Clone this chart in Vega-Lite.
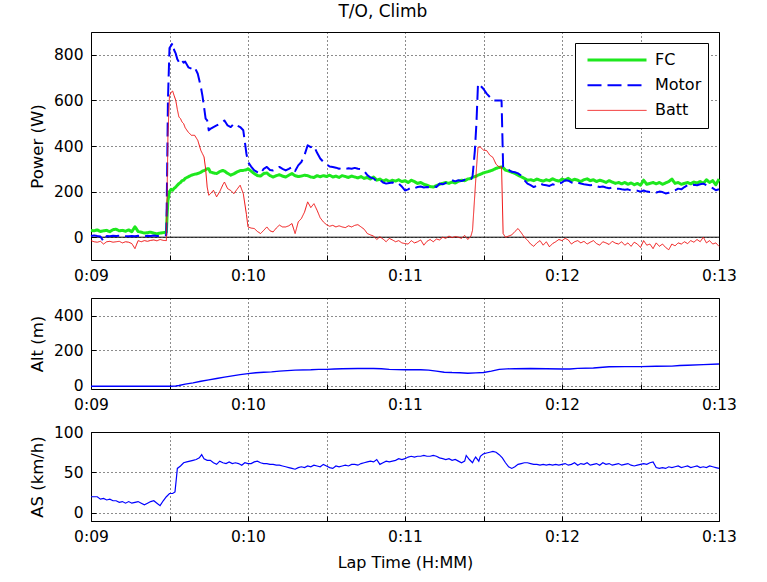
{
  "$schema": "https://vega.github.io/schema/vega-lite/v6.json",
  "background": "white",
  "padding": {"left": 28, "top": 2, "right": 30, "bottom": 14},
  "title": {"text": "T/O, Climb", "anchor": "middle"},
  "datasets": {
    "power": [
      {"t": 9.00, "FC": 30, "Motor": 5, "Batt": -15},
      {"t": 9.02, "FC": 28, "Motor": 8, "Batt": -20},
      {"t": 9.04, "FC": 32, "Motor": 5, "Batt": -22},
      {"t": 9.06, "FC": 25, "Motor": 3, "Batt": -18},
      {"t": 9.08, "FC": 28, "Motor": -18, "Batt": -30},
      {"t": 9.10, "FC": 30, "Motor": 5, "Batt": -20},
      {"t": 9.12, "FC": 24, "Motor": 4, "Batt": -18},
      {"t": 9.14, "FC": 33, "Motor": 6, "Batt": -22},
      {"t": 9.16, "FC": 35, "Motor": 5, "Batt": -20},
      {"t": 9.18, "FC": 28, "Motor": 6, "Batt": -18},
      {"t": 9.20, "FC": 30, "Motor": 8, "Batt": -25},
      {"t": 9.22, "FC": 26, "Motor": 5, "Batt": -20},
      {"t": 9.24, "FC": 32, "Motor": 4, "Batt": -22},
      {"t": 9.26, "FC": 24, "Motor": 5, "Batt": -28},
      {"t": 9.28, "FC": 46, "Motor": 4, "Batt": -50},
      {"t": 9.30, "FC": 25, "Motor": 6, "Batt": -15},
      {"t": 9.32, "FC": 22, "Motor": 5, "Batt": -20},
      {"t": 9.34, "FC": 18, "Motor": 4, "Batt": -15},
      {"t": 9.36, "FC": 20, "Motor": 6, "Batt": -18},
      {"t": 9.38, "FC": 22, "Motor": 5, "Batt": -14},
      {"t": 9.40, "FC": 18, "Motor": 7, "Batt": -12},
      {"t": 9.42, "FC": 15, "Motor": 5, "Batt": -16},
      {"t": 9.44, "FC": 18, "Motor": 6, "Batt": -10},
      {"t": 9.46, "FC": 20, "Motor": 8, "Batt": -14},
      {"t": 9.48, "FC": 22, "Motor": 10, "Batt": -15},
      {"t": 9.485, "FC": 100, "Motor": 290, "Batt": 200},
      {"t": 9.49, "FC": 160, "Motor": 600, "Batt": 450},
      {"t": 9.50, "FC": 200, "Motor": 830, "Batt": 620},
      {"t": 9.51, "FC": 210, "Motor": 840, "Batt": 635},
      {"t": 9.52, "FC": 206, "Motor": 851, "Batt": 641},
      {"t": 9.53, "FC": 215, "Motor": 820, "Batt": 620},
      {"t": 9.54, "FC": 220, "Motor": 805, "Batt": 600},
      {"t": 9.55, "FC": 228, "Motor": 780, "Batt": 560},
      {"t": 9.56, "FC": 235, "Motor": 768, "Batt": 527},
      {"t": 9.57, "FC": 240, "Motor": 780, "Batt": 520},
      {"t": 9.58, "FC": 248, "Motor": 775, "Batt": 505},
      {"t": 9.59, "FC": 250, "Motor": 765, "Batt": 498},
      {"t": 9.60, "FC": 258, "Motor": 770, "Batt": 480},
      {"t": 9.62, "FC": 265, "Motor": 745, "Batt": 460},
      {"t": 9.64, "FC": 272, "Motor": 739, "Batt": 447},
      {"t": 9.66, "FC": 276, "Motor": 746, "Batt": 447},
      {"t": 9.68, "FC": 279, "Motor": 717, "Batt": 425},
      {"t": 9.70, "FC": 285, "Motor": 658, "Batt": 380},
      {"t": 9.71, "FC": 290, "Motor": 620, "Batt": 366},
      {"t": 9.72, "FC": 292, "Motor": 571, "Batt": 352},
      {"t": 9.73, "FC": 296, "Motor": 520, "Batt": 300},
      {"t": 9.74, "FC": 300, "Motor": 512, "Batt": 220},
      {"t": 9.75, "FC": 300, "Motor": 469, "Batt": 184},
      {"t": 9.76, "FC": 286, "Motor": 475, "Batt": 190},
      {"t": 9.78, "FC": 282, "Motor": 483, "Batt": 206},
      {"t": 9.80, "FC": 279, "Motor": 490, "Batt": 177},
      {"t": 9.82, "FC": 288, "Motor": 498, "Batt": 200},
      {"t": 9.84, "FC": 293, "Motor": 505, "Batt": 230},
      {"t": 9.85, "FC": 290, "Motor": 512, "Batt": 242},
      {"t": 9.87, "FC": 280, "Motor": 490, "Batt": 213},
      {"t": 9.89, "FC": 272, "Motor": 483, "Batt": 205},
      {"t": 9.91, "FC": 278, "Motor": 498, "Batt": 191},
      {"t": 9.93, "FC": 286, "Motor": 490, "Batt": 210},
      {"t": 9.95, "FC": 292, "Motor": 483, "Batt": 228},
      {"t": 9.97, "FC": 293, "Motor": 469, "Batt": 191},
      {"t": 9.99, "FC": 296, "Motor": 366, "Batt": 100},
      {"t": 10.00, "FC": 300, "Motor": 330, "Batt": 45},
      {"t": 10.02, "FC": 290, "Motor": 310, "Batt": 40},
      {"t": 10.04, "FC": 279, "Motor": 293, "Batt": 38},
      {"t": 10.06, "FC": 270, "Motor": 285, "Batt": 25},
      {"t": 10.08, "FC": 268, "Motor": 279, "Batt": 16},
      {"t": 10.10, "FC": 279, "Motor": 300, "Batt": 30},
      {"t": 10.12, "FC": 282, "Motor": 308, "Batt": 45},
      {"t": 10.14, "FC": 270, "Motor": 295, "Batt": 28},
      {"t": 10.16, "FC": 264, "Motor": 293, "Batt": 23},
      {"t": 10.18, "FC": 270, "Motor": 300, "Batt": 40},
      {"t": 10.20, "FC": 274, "Motor": 308, "Batt": 53},
      {"t": 10.22, "FC": 268, "Motor": 300, "Batt": 45},
      {"t": 10.24, "FC": 264, "Motor": 293, "Batt": 45},
      {"t": 10.26, "FC": 272, "Motor": 300, "Batt": 50},
      {"t": 10.28, "FC": 279, "Motor": 308, "Batt": 60},
      {"t": 10.30, "FC": 270, "Motor": 290, "Batt": 16},
      {"t": 10.32, "FC": 266, "Motor": 315, "Batt": 67},
      {"t": 10.34, "FC": 268, "Motor": 330, "Batt": 82},
      {"t": 10.36, "FC": 272, "Motor": 360, "Batt": 110},
      {"t": 10.38, "FC": 270, "Motor": 403, "Batt": 155},
      {"t": 10.40, "FC": 264, "Motor": 395, "Batt": 130},
      {"t": 10.42, "FC": 262, "Motor": 400, "Batt": 147},
      {"t": 10.44, "FC": 270, "Motor": 370, "Batt": 118},
      {"t": 10.46, "FC": 265, "Motor": 345, "Batt": 85},
      {"t": 10.48, "FC": 270, "Motor": 330, "Batt": 67},
      {"t": 10.50, "FC": 266, "Motor": 320, "Batt": 55},
      {"t": 10.52, "FC": 272, "Motor": 310, "Batt": 48},
      {"t": 10.54, "FC": 264, "Motor": 308, "Batt": 52},
      {"t": 10.56, "FC": 268, "Motor": 305, "Batt": 45},
      {"t": 10.58, "FC": 262, "Motor": 300, "Batt": 50},
      {"t": 10.60, "FC": 270, "Motor": 304, "Batt": 45},
      {"t": 10.62, "FC": 266, "Motor": 300, "Batt": 42},
      {"t": 10.64, "FC": 262, "Motor": 302, "Batt": 50},
      {"t": 10.66, "FC": 268, "Motor": 300, "Batt": 45},
      {"t": 10.68, "FC": 264, "Motor": 304, "Batt": 52},
      {"t": 10.70, "FC": 260, "Motor": 300, "Batt": 55},
      {"t": 10.72, "FC": 266, "Motor": 298, "Batt": 45},
      {"t": 10.74, "FC": 258, "Motor": 290, "Batt": 35},
      {"t": 10.76, "FC": 262, "Motor": 272, "Batt": 16},
      {"t": 10.78, "FC": 255, "Motor": 262, "Batt": 10},
      {"t": 10.80, "FC": 264, "Motor": 258, "Batt": 5},
      {"t": 10.82, "FC": 250, "Motor": 245, "Batt": -10},
      {"t": 10.84, "FC": 255, "Motor": 252, "Batt": 2},
      {"t": 10.86, "FC": 246, "Motor": 240, "Batt": -8},
      {"t": 10.88, "FC": 252, "Motor": 235, "Batt": -20},
      {"t": 10.90, "FC": 244, "Motor": 238, "Batt": -5},
      {"t": 10.92, "FC": 250, "Motor": 240, "Batt": -12},
      {"t": 10.94, "FC": 246, "Motor": 232, "Batt": -20},
      {"t": 10.96, "FC": 252, "Motor": 235, "Batt": -15},
      {"t": 10.98, "FC": 244, "Motor": 222, "Batt": -25},
      {"t": 11.00, "FC": 248, "Motor": 205, "Batt": -28},
      {"t": 11.02, "FC": 240, "Motor": 210, "Batt": -30},
      {"t": 11.04, "FC": 250, "Motor": 218, "Batt": -15},
      {"t": 11.06, "FC": 244, "Motor": 215, "Batt": -25},
      {"t": 11.08, "FC": 236, "Motor": 220, "Batt": -20},
      {"t": 11.10, "FC": 240, "Motor": 222, "Batt": -12},
      {"t": 11.12, "FC": 232, "Motor": 218, "Batt": -35},
      {"t": 11.14, "FC": 228, "Motor": 220, "Batt": -18},
      {"t": 11.16, "FC": 222, "Motor": 218, "Batt": -10},
      {"t": 11.18, "FC": 220, "Motor": 224, "Batt": -20},
      {"t": 11.20, "FC": 226, "Motor": 220, "Batt": -8},
      {"t": 11.22, "FC": 232, "Motor": 235, "Batt": -12},
      {"t": 11.24, "FC": 236, "Motor": 232, "Batt": 0},
      {"t": 11.26, "FC": 240, "Motor": 238, "Batt": -5},
      {"t": 11.28, "FC": 236, "Motor": 244, "Batt": 5},
      {"t": 11.30, "FC": 242, "Motor": 250, "Batt": -2},
      {"t": 11.32, "FC": 238, "Motor": 245, "Batt": 3},
      {"t": 11.34, "FC": 245, "Motor": 250, "Batt": 0},
      {"t": 11.36, "FC": 250, "Motor": 246, "Batt": -5},
      {"t": 11.38, "FC": 248, "Motor": 252, "Batt": 8},
      {"t": 11.40, "FC": 255, "Motor": 248, "Batt": -10},
      {"t": 11.42, "FC": 258, "Motor": 255, "Batt": 5},
      {"t": 11.43, "FC": 262, "Motor": 265, "Batt": 30},
      {"t": 11.445, "FC": 266, "Motor": 380, "Batt": 190},
      {"t": 11.455, "FC": 268, "Motor": 500, "Batt": 300},
      {"t": 11.465, "FC": 272, "Motor": 673, "Batt": 395},
      {"t": 11.48, "FC": 276, "Motor": 665, "Batt": 395},
      {"t": 11.50, "FC": 282, "Motor": 650, "Batt": 382},
      {"t": 11.52, "FC": 286, "Motor": 630, "Batt": 380},
      {"t": 11.54, "FC": 290, "Motor": 615, "Batt": 360},
      {"t": 11.56, "FC": 295, "Motor": 600, "Batt": 350},
      {"t": 11.58, "FC": 302, "Motor": 600, "Batt": 320},
      {"t": 11.60, "FC": 306, "Motor": 600, "Batt": 308},
      {"t": 11.615, "FC": 308, "Motor": 600, "Batt": 308},
      {"t": 11.625, "FC": 305, "Motor": 308, "Batt": 16},
      {"t": 11.64, "FC": 294, "Motor": 300, "Batt": 0},
      {"t": 11.66, "FC": 290, "Motor": 295, "Batt": 5},
      {"t": 11.68, "FC": 285, "Motor": 287, "Batt": 10},
      {"t": 11.70, "FC": 280, "Motor": 285, "Batt": 25},
      {"t": 11.72, "FC": 272, "Motor": 280, "Batt": 38},
      {"t": 11.74, "FC": 265, "Motor": 270, "Batt": 20},
      {"t": 11.76, "FC": 258, "Motor": 250, "Batt": 0},
      {"t": 11.78, "FC": 250, "Motor": 235, "Batt": -13},
      {"t": 11.80, "FC": 252, "Motor": 228, "Batt": -30},
      {"t": 11.82, "FC": 248, "Motor": 220, "Batt": -40},
      {"t": 11.84, "FC": 255, "Motor": 225, "Batt": -25},
      {"t": 11.86, "FC": 250, "Motor": 235, "Batt": -15},
      {"t": 11.88, "FC": 246, "Motor": 230, "Batt": -35},
      {"t": 11.90, "FC": 252, "Motor": 228, "Batt": -20},
      {"t": 11.92, "FC": 248, "Motor": 225, "Batt": -42},
      {"t": 11.94, "FC": 256, "Motor": 232, "Batt": -28},
      {"t": 11.96, "FC": 250, "Motor": 228, "Batt": -20},
      {"t": 11.98, "FC": 246, "Motor": 235, "Batt": -10},
      {"t": 12.00, "FC": 255, "Motor": 240, "Batt": -15},
      {"t": 12.02, "FC": 250, "Motor": 250, "Batt": -5},
      {"t": 12.04, "FC": 258, "Motor": 248, "Batt": -12},
      {"t": 12.06, "FC": 248, "Motor": 240, "Batt": -30},
      {"t": 12.08, "FC": 254, "Motor": 236, "Batt": -20},
      {"t": 12.10, "FC": 250, "Motor": 240, "Batt": -15},
      {"t": 12.12, "FC": 244, "Motor": 235, "Batt": -25},
      {"t": 12.14, "FC": 252, "Motor": 232, "Batt": -18},
      {"t": 12.16, "FC": 256, "Motor": 230, "Batt": -30},
      {"t": 12.18, "FC": 248, "Motor": 228, "Batt": -22},
      {"t": 12.20, "FC": 252, "Motor": 230, "Batt": -15},
      {"t": 12.22, "FC": 244, "Motor": 224, "Batt": -28},
      {"t": 12.24, "FC": 250, "Motor": 220, "Batt": -35},
      {"t": 12.26, "FC": 246, "Motor": 222, "Batt": -20},
      {"t": 12.28, "FC": 240, "Motor": 218, "Batt": -25},
      {"t": 12.30, "FC": 248, "Motor": 215, "Batt": -32},
      {"t": 12.32, "FC": 242, "Motor": 218, "Batt": -18},
      {"t": 12.34, "FC": 236, "Motor": 212, "Batt": -26},
      {"t": 12.36, "FC": 240, "Motor": 213, "Batt": -30},
      {"t": 12.38, "FC": 234, "Motor": 210, "Batt": -20},
      {"t": 12.40, "FC": 240, "Motor": 208, "Batt": -35},
      {"t": 12.42, "FC": 232, "Motor": 210, "Batt": -25},
      {"t": 12.44, "FC": 238, "Motor": 205, "Batt": -40},
      {"t": 12.46, "FC": 230, "Motor": 206, "Batt": -22},
      {"t": 12.48, "FC": 236, "Motor": 204, "Batt": -30},
      {"t": 12.50, "FC": 228, "Motor": 200, "Batt": -45},
      {"t": 12.52, "FC": 250, "Motor": 205, "Batt": -15},
      {"t": 12.54, "FC": 232, "Motor": 200, "Batt": -35},
      {"t": 12.56, "FC": 236, "Motor": 198, "Batt": -30},
      {"t": 12.58, "FC": 240, "Motor": 200, "Batt": -50},
      {"t": 12.60, "FC": 234, "Motor": 196, "Batt": -25},
      {"t": 12.62, "FC": 240, "Motor": 200, "Batt": -40},
      {"t": 12.64, "FC": 232, "Motor": 198, "Batt": -30},
      {"t": 12.66, "FC": 238, "Motor": 192, "Batt": -45},
      {"t": 12.68, "FC": 244, "Motor": 195, "Batt": -55},
      {"t": 12.70, "FC": 255, "Motor": 200, "Batt": -30},
      {"t": 12.72, "FC": 236, "Motor": 205, "Batt": -38},
      {"t": 12.74, "FC": 240, "Motor": 213, "Batt": -25},
      {"t": 12.76, "FC": 232, "Motor": 210, "Batt": -30},
      {"t": 12.78, "FC": 236, "Motor": 220, "Batt": -20},
      {"t": 12.80, "FC": 240, "Motor": 228, "Batt": -28},
      {"t": 12.82, "FC": 234, "Motor": 225, "Batt": -15},
      {"t": 12.84, "FC": 242, "Motor": 230, "Batt": -22},
      {"t": 12.86, "FC": 238, "Motor": 228, "Batt": -10},
      {"t": 12.88, "FC": 244, "Motor": 232, "Batt": -20},
      {"t": 12.90, "FC": 236, "Motor": 235, "Batt": 0},
      {"t": 12.92, "FC": 252, "Motor": 228, "Batt": -25},
      {"t": 12.94, "FC": 240, "Motor": 222, "Batt": -15},
      {"t": 12.96, "FC": 248, "Motor": 215, "Batt": -30},
      {"t": 12.98, "FC": 230, "Motor": 206, "Batt": -25},
      {"t": 13.00, "FC": 255, "Motor": 210, "Batt": -40}
    ],
    "alt": [
      {"t": 9.00, "alt": -4}, {"t": 9.50, "alt": -4}, {"t": 9.54, "alt": -3}, {"t": 9.56, "alt": 0},
      {"t": 9.60, "alt": 8}, {"t": 9.65, "alt": 15}, {"t": 9.70, "alt": 24}, {"t": 9.75, "alt": 32},
      {"t": 9.80, "alt": 40}, {"t": 9.85, "alt": 48}, {"t": 9.90, "alt": 55}, {"t": 9.95, "alt": 62},
      {"t": 10.00, "alt": 68}, {"t": 10.05, "alt": 73}, {"t": 10.10, "alt": 76}, {"t": 10.15, "alt": 78},
      {"t": 10.20, "alt": 82}, {"t": 10.25, "alt": 85}, {"t": 10.30, "alt": 88}, {"t": 10.40, "alt": 90},
      {"t": 10.45, "alt": 92}, {"t": 10.50, "alt": 92}, {"t": 10.55, "alt": 94}, {"t": 10.60, "alt": 96},
      {"t": 10.70, "alt": 97}, {"t": 10.80, "alt": 97}, {"t": 10.85, "alt": 96}, {"t": 10.90, "alt": 92},
      {"t": 11.00, "alt": 90}, {"t": 11.10, "alt": 90}, {"t": 11.15, "alt": 88}, {"t": 11.20, "alt": 82},
      {"t": 11.25, "alt": 76}, {"t": 11.30, "alt": 74}, {"t": 11.35, "alt": 73}, {"t": 11.40, "alt": 70},
      {"t": 11.45, "alt": 72}, {"t": 11.50, "alt": 74}, {"t": 11.55, "alt": 82}, {"t": 11.60, "alt": 92},
      {"t": 11.65, "alt": 95}, {"t": 11.70, "alt": 96}, {"t": 11.80, "alt": 97}, {"t": 11.90, "alt": 96},
      {"t": 12.00, "alt": 94}, {"t": 12.05, "alt": 94}, {"t": 12.10, "alt": 98}, {"t": 12.20, "alt": 100},
      {"t": 12.30, "alt": 107}, {"t": 12.40, "alt": 108}, {"t": 12.50, "alt": 108}, {"t": 12.60, "alt": 110},
      {"t": 12.70, "alt": 111}, {"t": 12.75, "alt": 114}, {"t": 12.80, "alt": 116}, {"t": 12.90, "alt": 119},
      {"t": 13.00, "alt": 123}
    ],
    "as": [
      {"t": 9.00, "as": 20}, {"t": 9.02, "as": 20}, {"t": 9.04, "as": 20}, {"t": 9.06, "as": 17},
      {"t": 9.08, "as": 18}, {"t": 9.10, "as": 16}, {"t": 9.12, "as": 17}, {"t": 9.14, "as": 15},
      {"t": 9.16, "as": 15}, {"t": 9.18, "as": 13}, {"t": 9.20, "as": 14}, {"t": 9.22, "as": 12},
      {"t": 9.24, "as": 14}, {"t": 9.26, "as": 12}, {"t": 9.28, "as": 13}, {"t": 9.30, "as": 14},
      {"t": 9.32, "as": 12}, {"t": 9.34, "as": 10}, {"t": 9.36, "as": 12}, {"t": 9.38, "as": 14},
      {"t": 9.40, "as": 15}, {"t": 9.42, "as": 12}, {"t": 9.44, "as": 9}, {"t": 9.46, "as": 15},
      {"t": 9.48, "as": 20}, {"t": 9.50, "as": 24}, {"t": 9.52, "as": 24}, {"t": 9.535, "as": 26},
      {"t": 9.545, "as": 45}, {"t": 9.55, "as": 55}, {"t": 9.57, "as": 58}, {"t": 9.59, "as": 62},
      {"t": 9.61, "as": 63}, {"t": 9.63, "as": 64}, {"t": 9.65, "as": 65}, {"t": 9.67, "as": 66},
      {"t": 9.69, "as": 68}, {"t": 9.705, "as": 72}, {"t": 9.72, "as": 67}, {"t": 9.74, "as": 65},
      {"t": 9.76, "as": 65}, {"t": 9.78, "as": 62}, {"t": 9.80, "as": 60}, {"t": 9.82, "as": 64},
      {"t": 9.84, "as": 62}, {"t": 9.86, "as": 61}, {"t": 9.88, "as": 63}, {"t": 9.90, "as": 61},
      {"t": 9.92, "as": 62}, {"t": 9.94, "as": 61}, {"t": 9.96, "as": 59}, {"t": 9.98, "as": 62},
      {"t": 10.00, "as": 61}, {"t": 10.02, "as": 61}, {"t": 10.04, "as": 63}, {"t": 10.06, "as": 64},
      {"t": 10.08, "as": 62}, {"t": 10.10, "as": 61}, {"t": 10.12, "as": 61}, {"t": 10.14, "as": 60},
      {"t": 10.16, "as": 60}, {"t": 10.18, "as": 59}, {"t": 10.20, "as": 59}, {"t": 10.22, "as": 58},
      {"t": 10.24, "as": 57}, {"t": 10.26, "as": 56}, {"t": 10.28, "as": 55}, {"t": 10.30, "as": 54},
      {"t": 10.32, "as": 56}, {"t": 10.34, "as": 57}, {"t": 10.36, "as": 56}, {"t": 10.38, "as": 58},
      {"t": 10.40, "as": 57}, {"t": 10.42, "as": 59}, {"t": 10.44, "as": 58}, {"t": 10.46, "as": 57},
      {"t": 10.48, "as": 60}, {"t": 10.50, "as": 58}, {"t": 10.52, "as": 56}, {"t": 10.54, "as": 55},
      {"t": 10.56, "as": 58}, {"t": 10.58, "as": 57}, {"t": 10.60, "as": 58}, {"t": 10.62, "as": 59},
      {"t": 10.64, "as": 58}, {"t": 10.66, "as": 60}, {"t": 10.68, "as": 60}, {"t": 10.70, "as": 59},
      {"t": 10.72, "as": 61}, {"t": 10.74, "as": 62}, {"t": 10.76, "as": 63}, {"t": 10.78, "as": 64},
      {"t": 10.80, "as": 63}, {"t": 10.82, "as": 66}, {"t": 10.84, "as": 60}, {"t": 10.86, "as": 62},
      {"t": 10.88, "as": 64}, {"t": 10.90, "as": 63}, {"t": 10.92, "as": 64}, {"t": 10.94, "as": 65},
      {"t": 10.96, "as": 67}, {"t": 10.98, "as": 66}, {"t": 11.00, "as": 67}, {"t": 11.02, "as": 69},
      {"t": 11.04, "as": 70}, {"t": 11.06, "as": 69}, {"t": 11.08, "as": 70}, {"t": 11.10, "as": 70},
      {"t": 11.12, "as": 71}, {"t": 11.14, "as": 70}, {"t": 11.16, "as": 70}, {"t": 11.18, "as": 71},
      {"t": 11.20, "as": 70}, {"t": 11.22, "as": 68}, {"t": 11.24, "as": 67}, {"t": 11.26, "as": 66},
      {"t": 11.28, "as": 67}, {"t": 11.30, "as": 65}, {"t": 11.32, "as": 66}, {"t": 11.34, "as": 64},
      {"t": 11.36, "as": 62}, {"t": 11.38, "as": 64}, {"t": 11.39, "as": 71}, {"t": 11.41, "as": 66},
      {"t": 11.43, "as": 62}, {"t": 11.44, "as": 66}, {"t": 11.45, "as": 69}, {"t": 11.47, "as": 64},
      {"t": 11.48, "as": 70}, {"t": 11.50, "as": 73}, {"t": 11.52, "as": 74}, {"t": 11.54, "as": 75},
      {"t": 11.56, "as": 76}, {"t": 11.58, "as": 75}, {"t": 11.60, "as": 72}, {"t": 11.62, "as": 68},
      {"t": 11.64, "as": 62}, {"t": 11.66, "as": 57}, {"t": 11.68, "as": 55}, {"t": 11.70, "as": 57},
      {"t": 11.72, "as": 60}, {"t": 11.74, "as": 61}, {"t": 11.76, "as": 62}, {"t": 11.78, "as": 62},
      {"t": 11.80, "as": 61}, {"t": 11.82, "as": 60}, {"t": 11.84, "as": 60}, {"t": 11.86, "as": 59},
      {"t": 11.88, "as": 60}, {"t": 11.90, "as": 59}, {"t": 11.92, "as": 60}, {"t": 11.94, "as": 59},
      {"t": 11.96, "as": 60}, {"t": 11.98, "as": 59}, {"t": 12.00, "as": 60}, {"t": 12.02, "as": 61},
      {"t": 12.04, "as": 59}, {"t": 12.06, "as": 60}, {"t": 12.08, "as": 62}, {"t": 12.10, "as": 59},
      {"t": 12.12, "as": 61}, {"t": 12.14, "as": 60}, {"t": 12.16, "as": 62}, {"t": 12.18, "as": 59},
      {"t": 12.20, "as": 60}, {"t": 12.22, "as": 61}, {"t": 12.24, "as": 59}, {"t": 12.26, "as": 62},
      {"t": 12.28, "as": 60}, {"t": 12.30, "as": 61}, {"t": 12.32, "as": 59}, {"t": 12.34, "as": 60},
      {"t": 12.36, "as": 61}, {"t": 12.38, "as": 59}, {"t": 12.40, "as": 60}, {"t": 12.42, "as": 61},
      {"t": 12.44, "as": 59}, {"t": 12.46, "as": 58}, {"t": 12.48, "as": 59}, {"t": 12.50, "as": 60},
      {"t": 12.52, "as": 61}, {"t": 12.54, "as": 60}, {"t": 12.56, "as": 62}, {"t": 12.58, "as": 63},
      {"t": 12.60, "as": 56}, {"t": 12.62, "as": 55}, {"t": 12.64, "as": 56}, {"t": 12.66, "as": 55},
      {"t": 12.68, "as": 57}, {"t": 12.70, "as": 56}, {"t": 12.72, "as": 57}, {"t": 12.74, "as": 58},
      {"t": 12.76, "as": 56}, {"t": 12.78, "as": 57}, {"t": 12.80, "as": 58}, {"t": 12.82, "as": 56},
      {"t": 12.84, "as": 57}, {"t": 12.86, "as": 58}, {"t": 12.88, "as": 56}, {"t": 12.90, "as": 57},
      {"t": 12.92, "as": 56}, {"t": 12.94, "as": 58}, {"t": 12.96, "as": 57}, {"t": 12.98, "as": 56},
      {"t": 13.00, "as": 55}
    ],
    "zero": [{"z": 0}]
  },
  "bounds": "flush",
  "spacing": 38,
  "vconcat": [
    {
      "width": 628,
      "height": 228,
      "layer": [
        {
          "data": {"name": "zero"},
          "mark": {"type": "rule", "color": "black", "strokeWidth": 1},
          "encoding": {
            "y": {"field": "z", "type": "quantitative", "scale": {"domain": [-100, 900], "nice": false, "zero": false}}
          }
        },
        {
          "data": {"name": "power"},
          "transform": [{"fold": ["FC", "Motor", "Batt"], "as": ["series", "power"]}],
          "mark": {"type": "line", "strokeJoin": "round"},
          "encoding": {
            "x": {
              "field": "t", "type": "quantitative",
              "scale": {"domain": [9, 13], "nice": false, "zero": false},
              "axis": {"title": null, "values": [9, 9.5, 10, 10.5, 11, 11.5, 12, 12.5, 13], "labelExpr": "datum.value % 1 == 0 ? '0:' + (datum.value < 10 ? '0' : '') + datum.value : ''"}
            },
            "y": {
              "field": "power", "type": "quantitative",
              "scale": {"domain": [-100, 900], "nice": false, "zero": false},
              "axis": {"title": "Power (W)", "values": [0, 200, 400, 600, 800]}
            },
            "color": {
              "field": "series", "type": "nominal", "title": null,
              "scale": {"domain": ["FC", "Motor", "Batt"], "range": ["#1ee81e", "#0000ff", "#f01010"]}
            },
            "strokeDash": {
              "field": "series", "type": "nominal", "title": null,
              "scale": {"domain": ["FC", "Motor", "Batt"], "range": [[1, 0], [14, 6], [1, 0]]}
            },
            "strokeWidth": {
              "field": "series", "type": "nominal", "title": null,
              "scale": {"domain": ["FC", "Motor", "Batt"], "range": [3, 1, 1]}
            }
          }
        }
      ]
    },
    {
      "bounds": "flush",
      "spacing": 43,
      "vconcat": [
        {
          "width": 628,
          "height": 91,
          "data": {"name": "alt"},
          "mark": {"type": "line", "color": "#0000ff", "strokeWidth": 1.4},
          "encoding": {
            "x": {
              "field": "t", "type": "quantitative",
              "scale": {"domain": [9, 13], "nice": false, "zero": false},
              "axis": {"title": null, "values": [9, 9.5, 10, 10.5, 11, 11.5, 12, 12.5, 13], "labelExpr": "datum.value % 1 == 0 ? '0:' + (datum.value < 10 ? '0' : '') + datum.value : ''"}
            },
            "y": {
              "field": "alt", "type": "quantitative",
              "scale": {"domain": [-20, 500], "nice": false, "zero": false},
              "axis": {"title": "Alt (m)", "values": [0, 200, 400]}
            }
          }
        },
        {
          "width": 628,
          "height": 89,
          "data": {"name": "as"},
          "mark": {"type": "line", "color": "#0000ff", "strokeWidth": 1.2},
          "encoding": {
            "x": {
              "field": "t", "type": "quantitative",
              "scale": {"domain": [9, 13], "nice": false, "zero": false},
              "axis": {"title": "Lap Time (H:MM)", "titleFontSize": 16, "titlePadding": 10, "values": [9, 9.5, 10, 10.5, 11, 11.5, 12, 12.5, 13], "labelExpr": "datum.value % 1 == 0 ? '0:' + (datum.value < 10 ? '0' : '') + datum.value : ''"}
            },
            "y": {
              "field": "as", "type": "quantitative",
              "scale": {"domain": [-10, 100], "nice": false, "zero": false},
              "axis": {"title": "AS (km/h)", "values": [0, 50, 100]}
            }
          }
        }
      ]
    }
  ],
  "config": {
    "font": "DejaVu Sans",
    "view": {"stroke": "black", "strokeWidth": 1},
    "title": {"font": "DejaVu Sans", "fontSize": 17, "fontWeight": "normal", "color": "black", "offset": 11},
    "axis": {
      "labelFont": "DejaVu Sans", "labelFontSize": 15.5, "labelColor": "black",
      "titleFont": "DejaVu Sans", "titleFontSize": 16.5, "titleFontWeight": "normal", "titleColor": "black",
      "domain": false, "grid": true, "gridColor": "black", "gridDash": [1, 3], "gridOpacity": 0.9, "gridWidth": 1,
      "ticks": true, "tickColor": "black", "tickSize": -5, "tickWidth": 1,
      "labelPadding": 13, "titlePadding": 8, "labelOverlap": false, "labelFlush": false, "labelBound": false
    },
    "legend": {
      "orient": "top-right", "offset": 11, "strokeColor": "black", "fillColor": "white",
      "padding": 6, "labelFont": "DejaVu Sans", "labelFontSize": 16, "labelColor": "black",
      "symbolType": "stroke", "symbolSize": 3481, "clipHeight": 22, "rowPadding": 3.2,
      "symbolOffset": 5, "labelOffset": 7
    }
  }
}
